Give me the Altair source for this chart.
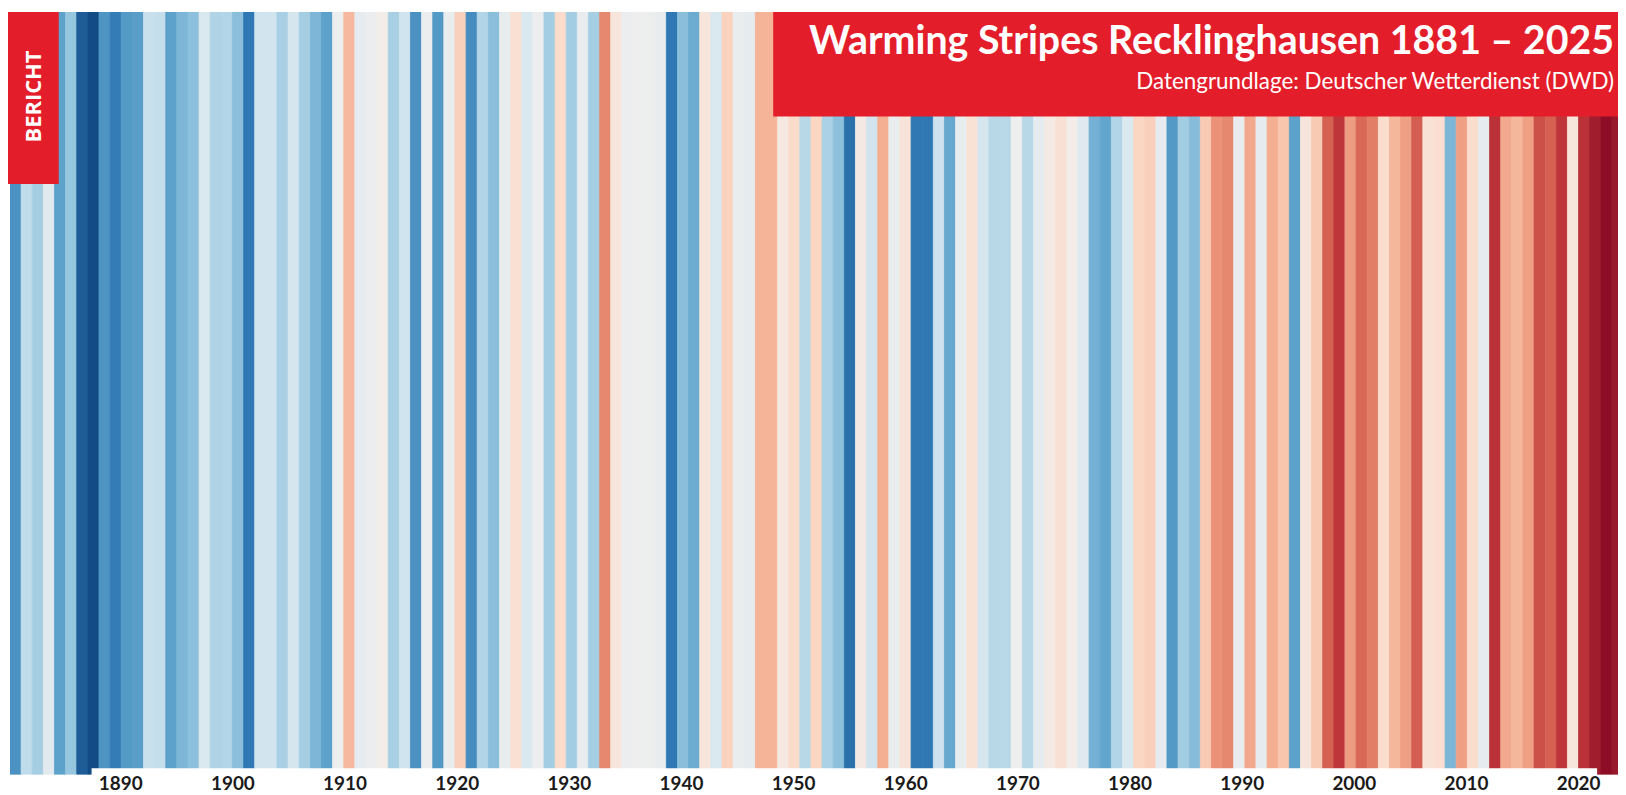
import altair as alt
import pandas as pd

# ---- data -------------------------------------------------------------
years = list(range(1881, 2026))
anomaly = [
    # 1881-1890
    -0.68, -0.27, -0.37, -0.10, -0.60, -0.42, -0.92, -1.00, -0.66, -0.78,
    # 1891-1900
    -0.64, -0.62, -0.24, -0.25, -0.60, -0.50, -0.45, -0.15, -0.33, -0.32,
    # 1901-1910
    -0.46, -0.80, -0.20, -0.20, -0.36, -0.18, -0.37, -0.50, -0.60, -0.03,
    # 1911-1920
    0.35, -0.08, -0.04, 0.02, -0.36, -0.21, -0.68, -0.04, -0.64, -0.05,
    # 1921-1930
    0.25, -0.70, -0.32, -0.46, -0.07, 0.15, -0.15, -0.04, -0.38, 0.20,
    # 1931-1940
    -0.38, -0.06, -0.37, 0.53, 0.10, -0.04, -0.02, -0.03, -0.06, -0.80,
    # 1941-1950
    -0.46, -0.55, 0.10, -0.15, 0.24, -0.05, -0.08, 0.38, 0.38, 0.07,
    # 1951-1960
    0.20, -0.30, 0.22, -0.35, -0.45, -0.83, 0.06, -0.20, 0.40, -0.05,
    # 1961-1970
    0.12, -0.80, -0.80, -0.22, -0.57, -0.07, 0.13, -0.18, -0.30, -0.30,
    # 1971-1980
    -0.02, -0.30, -0.08, 0.06, 0.14, 0.03, -0.12, -0.53, -0.58, -0.32,
    # 1981-1990
    -0.15, 0.22, 0.25, -0.08, -0.64, -0.38, -0.47, 0.28, 0.50, 0.53,
    # 1991-2000
    -0.06, 0.42, -0.08, 0.40, 0.30, -0.60, 0.10, 0.28, 0.66, 0.80,
    # 2001-2010
    0.46, 0.64, 0.57, 0.18, 0.36, 0.45, 0.67, 0.13, 0.17, -0.50,
    # 2011-2020
    0.45, 0.18, -0.08, 0.82, 0.42, 0.36, 0.45, 0.72, 0.66, 0.80,
    # 2021-2025
    0.10, 0.82, 0.92, 1.00, 0.95,
]
label_years = [1890, 1900, 1910, 1920, 1930, 1940, 1950, 1960,
               1970, 1980, 1990, 2000, 2010, 2020]

title_text = "Warming Stripes Recklinghausen 1881 – 2025"
subtitle_text = "Datengrundlage: Deutscher Wetterdienst (DWD)"
badge_text = "BERICHT"

df = pd.DataFrame({"year": years, "anomaly": anomaly})
labels_df = pd.DataFrame({"lyear": label_years, "label": [str(y) for y in label_years]})
one = pd.DataFrame({"k": [0]})

# ---- layout -----------------------------------------------------------
W = 1616
H = 785
STRIPE_PX = 11.18
x_start = 1880.5
x_end = x_start + W / STRIPE_PX
STRIPE_BOTTOM = 766
RED = "#e31e2a"
FONT = "Lato, Open Sans, sans-serif"

x_scale = alt.Scale(domain=[x_start, x_end], nice=False, zero=False)
# the printed year labels sit on a slightly wider grid than the stripes
label_scale = alt.Scale(domain=[1890, 2020], range=[111.3, 1576.4], nice=False, zero=False)
color_scale = alt.Scale(scheme="redblue", reverse=True, domain=[-1, 1])

stripes = alt.Chart(df).mark_rect(clip=True, strokeWidth=0.8).transform_calculate(
    x0="datum.year - 0.5", x1="datum.year + 0.5"
).encode(
    x=alt.X("x0:Q", scale=x_scale, axis=None),
    x2="x1:Q",
    y=alt.value(0),
    y2=alt.value(STRIPE_BOTTOM),
    color=alt.Color("anomaly:Q", scale=color_scale, legend=None),
    stroke=alt.Stroke("anomaly:Q", scale=color_scale, legend=None),
)

bottom_band = alt.Chart(one).mark_rect(color="white").encode(
    x=alt.value(82), x2=alt.value(1595), y=alt.value(760), y2=alt.value(H)
)

year_labels = alt.Chart(labels_df).mark_text(
    font=FONT, fontWeight="bold", fontSize=19, color="#1a1a1a",
    align="center", baseline="alphabetic"
).encode(
    x=alt.X("lyear:Q", scale=label_scale, axis=None),
    y=alt.value(782),
    text="label:N",
)

title_box = alt.Chart(one).mark_rect(color=RED).encode(
    x=alt.value(767), x2=alt.value(W), y=alt.value(0), y2=alt.value(105)
)
title = alt.Chart(one).mark_text(
    text=title_text, font=FONT, fontWeight="bold", fontSize=39.5,
    color="white", align="right", baseline="alphabetic"
).encode(x=alt.value(1612), y=alt.value(42))
subtitle = alt.Chart(one).mark_text(
    text=subtitle_text, font=FONT, fontSize=22.5,
    color="white", align="right", baseline="alphabetic"
).encode(x=alt.value(1612), y=alt.value(77))

badge_box = alt.Chart(one).mark_rect(color=RED).encode(
    x=alt.value(-2), x2=alt.value(49), y=alt.value(0), y2=alt.value(173)
)
badge = alt.Chart(one).mark_text(
    text=badge_text, font="Open Sans, sans-serif", fontWeight="bold", fontSize=22,
    color="white", align="center", baseline="middle", angle=270
).encode(x=alt.value(24), y=alt.value(85))

chart = alt.layer(
    stripes, bottom_band, year_labels, title_box, title, subtitle, badge_box, badge
).resolve_scale(x="independent").properties(
    width=W, height=H,
    autosize=alt.AutoSizeParams(type="none"),
    padding={"left": 2, "top": 2, "right": 0, "bottom": 0},
    background="white",
).configure_view(stroke=None)

chart.save("out.html", embed_options={"renderer": "svg", "actions": False})
